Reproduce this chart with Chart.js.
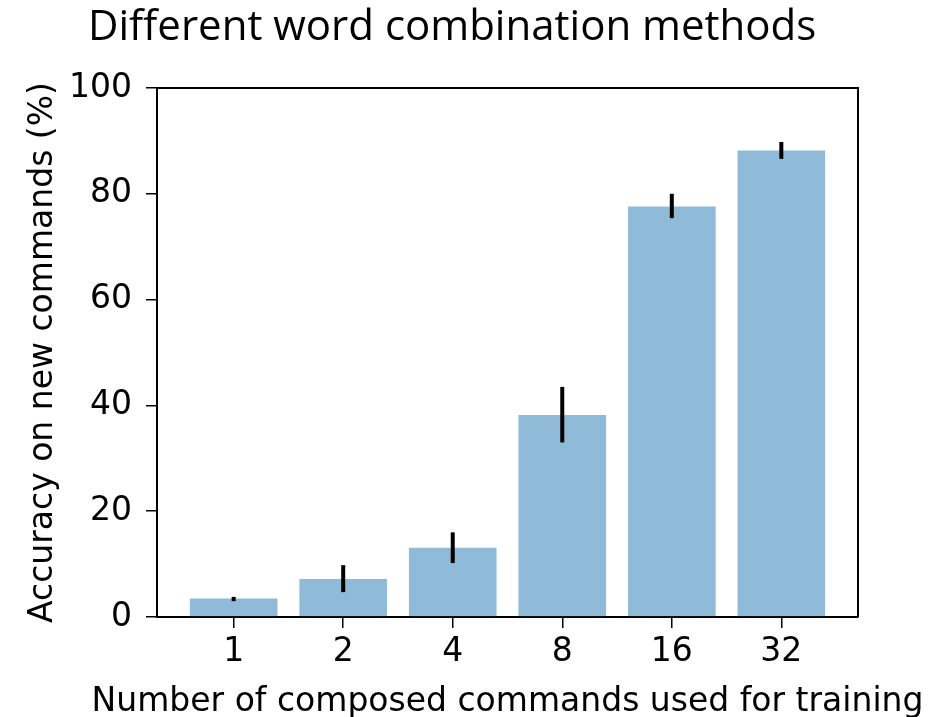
<!DOCTYPE html>
<html>
<head>
<meta charset="utf-8">
<script src="https://cdn.jsdelivr.net/npm/chart.js@4.4.0/dist/chart.umd.min.js"></script>
<style>
    html, body { margin: 0; padding: 0; background: #fff; }
    #wrap { width: 947px; height: 717px; }
</style>
</head>
<body>
<div id="wrap"><canvas id="myChart" width="947" height="717"></canvas></div>
<script>
// data
const categories = ["1", "2", "4", "8", "16", "32"];
const accuracy = [3.5, 7.2, 13.1, 38.2, 77.6, 88.2];
const errLow = [3.0, 4.7, 10.2, 33.0, 75.4, 86.6];
const errHigh = [3.8, 9.8, 16.0, 43.5, 80.0, 89.8];
const yTicks = [0, 20, 40, 60, 80, 100];

const titleText = "Different word combination methods";
const xTitle = "Number of composed commands used for training";
const yTitle = "Accuracy on new commands (%)";

const labelFont = "33px 'DejaVu Sans'";

// error bars, top/right frame, axis titles (chart.js squeezes them to the axis length) and slide title
const extras = {
    id: "extras",
    afterDatasetsDraw(chart) {
        const ctx = chart.ctx;
        const xs = chart.scales.x;
        const ys = chart.scales.y;
        ctx.save();
        ctx.strokeStyle = "#000";
        ctx.lineWidth = 4;
        ctx.lineCap = "butt";
        categories.forEach((c, i) => {
            const x = xs.getPixelForValue(i);
            ctx.beginPath();
            ctx.moveTo(x, ys.getPixelForValue(errLow[i]));
            ctx.lineTo(x, ys.getPixelForValue(errHigh[i]));
            ctx.stroke();
        });
        ctx.restore();
    },
    afterDraw(chart) {
        const ctx = chart.ctx;
        const a = chart.chartArea;
        ctx.save();
        ctx.strokeStyle = "#000";
        ctx.lineWidth = 2;
        ctx.beginPath();
        ctx.moveTo(a.left, a.top);
        ctx.lineTo(a.right, a.top);
        ctx.lineTo(a.right, a.bottom);
        ctx.stroke();

        ctx.fillStyle = "#000";
        ctx.font = labelFont;
        ctx.textAlign = "center";
        ctx.textBaseline = "alphabetic";
        ctx.fillText(xTitle, (a.left + a.right) / 2, 711);

        ctx.save();
        ctx.translate(52, (a.top + a.bottom) / 2);
        ctx.rotate(-Math.PI / 2);
        ctx.fillText(yTitle, 0, 0);
        ctx.restore();

        ctx.font = "42px 'Open Sans'";
        ctx.textAlign = "left";
        ctx.fillText(titleText, 88, 40);
        ctx.restore();
    },
};

const tickFont = { family: "DejaVu Sans", size: 33 };

const config = {
    type: "bar",
    data: {
        datasets: [{
            label: "accuracy",
            data: accuracy.map((v, i) => ({ x: i, y: v })),
            backgroundColor: "rgba(31, 119, 180, 0.5)",
            borderWidth: 0,
            categoryPercentage: 1,
            barPercentage: 0.8,
        }],
    },
    options: {
        responsive: false,
        animation: false,
        layout: {
            padding: { top: 88, right: 89, bottom: 0, left: 0 },
        },
        plugins: {
            legend: { display: false },
            tooltip: { enabled: false },
        },
        scales: {
            x: {
                type: "linear",
                offset: false,
                min: -0.7,
                max: 5.7,
                afterBuildTicks: (scale) => {
                    scale.ticks = categories.map((c, i) => ({ value: i }));
                },
                afterFit: (scale) => {
                    scale.height = 100;
                },
                grid: {
                    display: true,
                    offset: false,
                    drawOnChartArea: false,
                    drawTicks: true,
                    tickLength: 11,
                    color: "#000",
                    lineWidth: 1.5,
                },
                border: { display: true, color: "#000", width: 2 },
                ticks: {
                    autoSkip: false,
                    maxRotation: 0,
                    padding: 5,
                    color: "#000",
                    font: tickFont,
                    callback: (v) => categories[v],
                },
            },
            y: {
                min: 0,
                max: 100,
                afterBuildTicks: (scale) => {
                    scale.ticks = yTicks.map((v) => ({ value: v }));
                },
                afterFit: (scale) => {
                    scale.width = 157;
                },
                grid: {
                    display: true,
                    drawOnChartArea: false,
                    drawTicks: true,
                    tickLength: 11,
                    color: "#000",
                    lineWidth: 1.5,
                },
                border: { display: true, color: "#000", width: 2 },
                ticks: {
                    padding: 14,
                    color: "#000",
                    font: tickFont,
                },
            },
        },
    },
    plugins: [extras],
};

const myChart = new Chart(document.getElementById("myChart"), config);
</script>
</body>
</html>
